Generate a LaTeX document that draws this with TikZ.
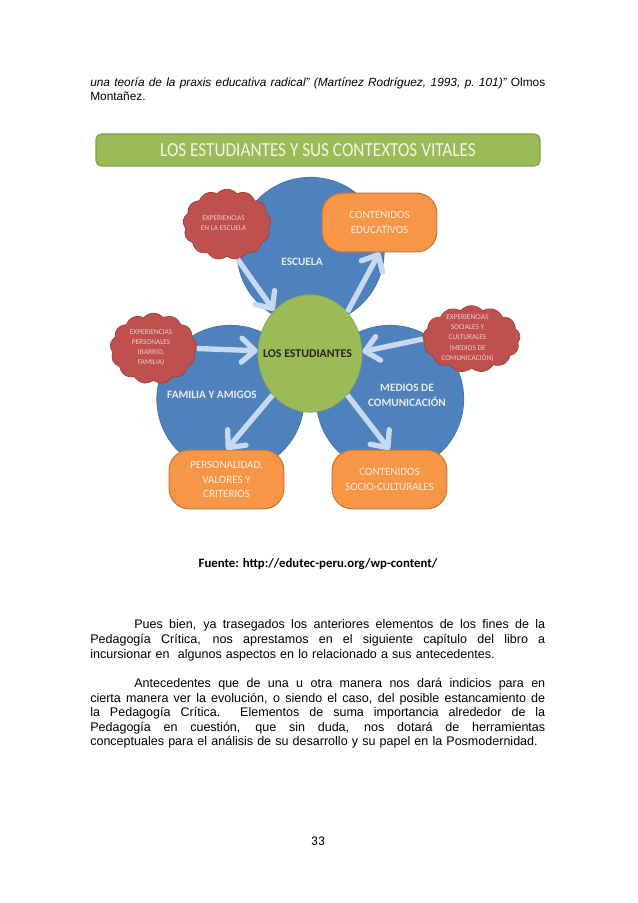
\documentclass[tikz,border=0pt]{standalone}
\usepackage{fontspec}
\setmainfont{Liberation Sans}
\newfontfamily\calf{Carlito}
\usetikzlibrary{shapes.geometric,shapes.symbols,arrows.meta}
\definecolor{cblue}{HTML}{4F81BD}
\definecolor{cgreen}{HTML}{9BBB59}
\definecolor{corange}{HTML}{F79646}
\definecolor{cred}{HTML}{C0504D}
\definecolor{carrow}{HTML}{C6D9F0}
\newcommand{\fsz}[2]{\fontsize{#1pt}{#2pt}\selectfont}
\newcommand{\jlw}[2]{\makebox[#1][s]{\spaceskip=.278em plus 1em minus .12em\xspaceskip=\spaceskip #2}}
\newcommand{\jl}[1]{\jlw{341.25pt}{#1}}
\newcommand{\nl}[1]{\mbox{\spaceskip=.33em\xspaceskip=\spaceskip #1}}
\tikzset{
 x=0.75pt,y=-0.75pt,
 ctx/.style={circle,fill=cblue,draw=cblue!90!black,line width=.6pt,minimum size=110.5pt,inner sep=0},
 outbox/.style={rectangle,rounded corners=15pt,fill=corange,draw=corange!80!black,line width=.8pt,minimum width=86pt,minimum height=44pt,inner sep=0,align=center,text=white!82!corange,font=\calf\fsz{8.3}{11.1}},
 cloudbox/.style={cloud,cloud puffs=13,cloud puff arc=100,cloud ignores aspect,fill=cred,draw=cred!85!black,line width=.6pt,inner sep=0},
 cloudtext/.style={inner sep=0,align=center,text=white!72!cred,font=\calf\fsz{5.5}{7.6}},
 lab/.style={text=white!85!cblue,align=center,font=\calf\bfseries\fsz{8.45}{11.3}},
 flow/.style={draw=carrow,line width=4pt,-{Straight Barb[length=10pt,width=18pt,line width=4pt,round]}},
 bodytext/.style={inner sep=0,anchor=north west,text width=341.25pt,align=left,font=\fsz{9.4}{10.95}},
}
\begin{document}
\begin{tikzpicture}
\useasboundingbox (0,0) rectangle (638,903);
\fill[white] (0,0) rectangle (638,903);
% page text
\node[bodytext,font=\fsz{8.9}{10.95}] (top) at (90,77) {\jl{\itshape una teoría de la praxis educativa radical" (Martínez Rodríguez, 1993, p. 101)"\upshape\ Olmos}\\Montañez.};
% banner
\node[rectangle,rounded corners=4pt,fill=cgreen,draw=cgreen!85!black,line width=.8pt,minimum width=333pt,minimum height=24pt,inner sep=0,text=white!85!cgreen,font=\calf\fsz{12.9}{15}] (banner) at (318,150) {\scalebox{1}[1.16]{LOS ESTUDIANTES Y SUS CONTEXTOS VITALES}};
% context circles
\node[ctx] (esc) at (310.5,251) {};
\node[ctx] (fam) at (230.5,399) {};
\node[ctx] (med) at (390,399) {};
\node[lab] (lesc) at (302,262) {ESCUELA};
\node[lab] (lfam) at (212,395) {FAMILIA Y AMIGOS};
\node[lab] (lmed) at (407,395) {MEDIOS DE\\COMUNICACIÓN};
% centre
\node[ellipse,fill=cgreen,draw=cgreen!90!black,line width=.6pt,minimum width=78pt,minimum height=88pt,inner sep=0] (main) at (310,353.5) {};
\node[inner sep=0,font=\calf\bfseries\fsz{8.9}{11},text=black!85] (mainlab) at (307.5,353.5) {LOS ESTUDIANTES};
% outcome boxes
\node[outbox] (edu) at (379.5,222.5) {CONTENIDOS\\EDUCATIVOS};
\node[outbox] (per) at (226.5,479.5) {PERSONALIDAD,\\VALORES Y\\CRITERIOS};
\node[outbox] (soc) at (389.5,479.5) {CONTENIDOS\\SOCIO-CULTURALES};
% clouds
\node[cloudbox,minimum width=66pt,minimum height=53pt] (c1) at (227,224.5) {};
\node[cloudbox,minimum width=65pt,minimum height=53pt] (c2) at (153.5,348.5) {};
\node[cloudbox,minimum width=73pt,minimum height=50pt] (c3) at (471.5,339) {};
\node[cloudtext] (t1) at (223.5,223) {EXPERIENCIAS\\EN LA ESCUELA};
\node[cloudtext] (t2) at (151,347.5) {EXPERIENCIAS\\PERSONALES\\(BARRIO,\\FAMILIA)};
\node[cloudtext] (t3) at (467.5,338) {EXPERIENCIAS\\SOCIALES Y\\CULTURALES\\(MEDIOS DE\\COMUNICACIÓN)};
% connectors
\draw[flow] (c1.-73) -- (main.130);
\draw[flow] (main.48) -- (edu.south);
\draw[flow] (c2.east) -- (main.177);
\draw[flow] (c3.west) -- (main.2);
\draw[flow] (main.228) -- (per.north);
\draw[flow] (main.312) -- (soc.north);
% caption
\node[inner sep=0,font=\calf\bfseries\fsz{9.6}{11}] (src) at (318,564) {Fuente: http://edutec-peru.org/wp-content/};
% paragraphs
\node[bodytext] (p1) at (90,619.5) {\hspace*{33pt}\jlw{308.25pt}{Pues bien, ya trasegados los anteriores elementos de los fines de la}\\
\jl{Pedagogía Crítica, nos aprestamos en el siguiente capítulo del libro a}\\
\nl{incursionar en \ algunos aspectos en lo relacionado a sus antecedentes.}};
\node[bodytext] (p2) at (90,678) {\hspace*{33pt}\jlw{308.25pt}{Antecedentes que de una u otra manera nos dará indicios para en}\\
\jl{cierta manera ver la evolución, o siendo el caso, del posible estancamiento de}\\
\jl{la Pedagogía Crítica. \ Elementos de suma importancia alrededor de la}\\
\jl{Pedagogía en cuestión, que sin duda, nos dotará de herramientas}\\
\nl{conceptuales para el análisis de su desarrollo y su papel en la Posmodernidad.}};
\node[inner sep=0,font=\calf\fsz{10}{11}] (pg) at (318,841) {33};
\end{tikzpicture}
\end{document}
